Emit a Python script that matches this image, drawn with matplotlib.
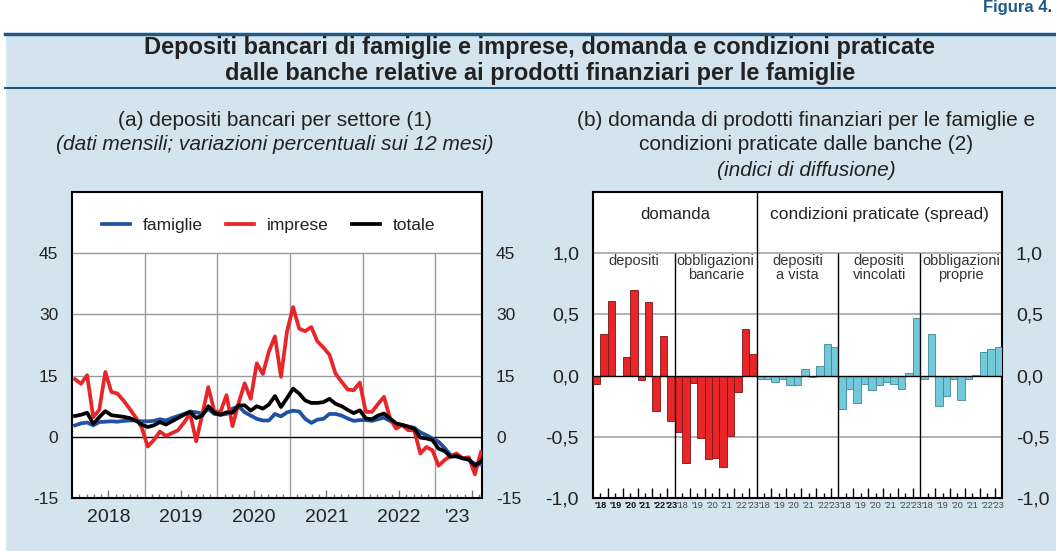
import numpy as np
import matplotlib
matplotlib.use('Agg')
import matplotlib.pyplot as plt
from matplotlib import rcParams
from matplotlib.patches import Rectangle
from matplotlib.lines import Line2D

rcParams['font.family'] = 'sans-serif'
rcParams['font.sans-serif'] = ['Liberation Sans', 'DejaVu Sans']

# (a) depositi bancari per settore, variazioni % sui 12 mesi, gen 2018 - ago 2023
famiglie = [2.8, 3.3, 3.5, 2.8, 3.6, 3.7, 3.8, 3.7, 3.9, 4.0, 4.0, 3.8,
            3.8, 3.9, 4.3, 4.0, 4.6, 5.1, 5.6, 6.2, 6.0, 5.7, 6.8, 5.6,
            5.4, 5.6, 6.9, 7.5, 6.0, 5.2, 4.4, 4.0, 4.0, 5.6, 5.0, 6.0,
            6.4, 6.2, 4.4, 3.4, 4.2, 4.4, 5.6, 5.6, 5.2, 4.5, 3.9, 4.1,
            4.1, 3.9, 4.3, 4.7, 3.9, 3.0, 2.9, 2.5, 2.2, 1.1, 0.4, -0.4,
            -1.2, -2.7, -4.5, -4.9, -5.2, -5.7, -6.6, -6.8]
imprese = [14.1, 13.0, 15.1, 4.8, 6.6, 15.9, 11.0, 10.6, 8.9, 6.9, 4.8, 2.3,
           -2.4, -0.8, 1.3, 0.2, 0.9, 1.6, 3.5, 5.7, -1.1, 5.5, 12.2, 6.2,
           6.1, 10.2, 2.6, 8.3, 13.1, 9.3, 18.0, 15.4, 20.9, 24.6, 14.7, 25.9,
           31.8, 26.5, 25.9, 26.9, 23.4, 21.9, 20.1, 15.5, 13.5, 11.6, 11.4, 13.3,
           6.1, 6.1, 8.0, 9.8, 4.5, 2.0, 2.9, 1.6, 1.6, -4.1, -2.5, -3.3,
           -7.1, -5.7, -4.7, -4.1, -5.3, -5.0, -9.2, -3.8]
totale = [5.1, 5.4, 5.9, 3.2, 4.8, 6.3, 5.3, 5.1, 4.9, 4.6, 4.0, 3.0,
          2.4, 2.8, 3.6, 3.0, 3.8, 4.6, 5.4, 6.1, 4.6, 5.2, 7.5, 5.9,
          5.4, 6.0, 5.9, 7.7, 7.7, 6.4, 7.5, 6.9, 7.9, 10.0, 7.3, 9.5,
          11.8, 10.6, 8.9, 8.3, 8.3, 8.5, 9.3, 8.1, 7.5, 6.6, 5.8, 6.5,
          4.5, 4.3, 5.2, 5.7, 4.5, 3.3, 2.9, 2.5, 2.0, -0.2, -0.4, -0.8,
          -2.9, -3.5, -4.9, -4.7, -5.3, -5.5, -7.1, -6.0]
year_labels_a = ['2018', '2019', '2020', '2021', '2022', "'23"]

# (b) indici di diffusione, dati semestrali 2018 H1 - 2023 H1
dom_depositi = [-0.07, 0.34, 0.61, 0.0, 0.15, 0.70, -0.04, 0.60, -0.29, 0.32, -0.37]
dom_obbligazioni = [-0.46, -0.71, -0.06, -0.51, -0.68, -0.67, -0.75, -0.49, -0.13, 0.38, 0.18]
cond_vista = [-0.03, -0.03, -0.05, -0.03, -0.08, -0.08, 0.05, -0.01, 0.08, 0.26, 0.23]
cond_vincolati = [-0.27, -0.11, -0.22, -0.07, -0.12, -0.08, -0.05, -0.07, -0.11, 0.02, 0.47]
cond_obbl_proprie = [-0.03, 0.34, -0.25, -0.17, -0.03, -0.20, -0.03, 0.005, 0.19, 0.22, 0.23]
group_names = ['depositi', 'obbligazioni\nbancarie', 'depositi\na vista',
               'depositi\nvincolati', 'obbligazioni\nproprie']
year_labels_b = ["'18", "'19", "'20", "'21", "'22", "'23"]

W, H = 1056, 551
BG = '#d3e4ee'
DARKBLUE = '#1d5a88'
RED = '#e8262a'
BLUE = '#1f52a3'
CYAN = '#72c9d9'
TXT = '#222222'

fig = plt.figure(figsize=(W/100, H/100), dpi=100)
fig.patch.set_facecolor(BG)

# header band
fig.patches.append(Rectangle((0, 1-32/H), 1, 32/H, transform=fig.transFigure, color='white', zorder=0))
fig.patches.append(Rectangle((0, 0), 5/W, 1, transform=fig.transFigure, color='white', zorder=0))
fig.lines.append(Line2D([5/W, 1], [1-33.5/H, 1-33.5/H], transform=fig.transFigure, color=DARKBLUE, lw=2.5))
fig.lines.append(Line2D([5/W, 1], [1-88/H, 1-88/H], transform=fig.transFigure, color=DARKBLUE, lw=1.5))
fig.text(1052/W, 1-12/H, 'Figura 4.', ha='right', va='baseline', fontsize=12, fontweight='bold', color=DARKBLUE)

fig.text(540/W, 1-54/H, 'Depositi bancari di famiglie e imprese, domanda e condizioni praticate',
         ha='center', va='baseline', fontsize=17, fontweight='bold', color=TXT)
fig.text(540/W, 1-80/H, 'dalle banche relative ai prodotti finanziari per le famiglie',
         ha='center', va='baseline', fontsize=17, fontweight='bold', color=TXT)

fig.text(275/W, 1-120/H, '(a) depositi bancari per settore (1)', ha='center', va='center', fontsize=15, color=TXT)
fig.text(275/W, 1-145/H, '(dati mensili; variazioni percentuali sui 12 mesi)', ha='center', va='center',
         fontsize=15, style='italic', color=TXT)
fig.text(806/W, 1-120/H, '(b) domanda di prodotti finanziari per le famiglie e', ha='center', va='center',
         fontsize=15, color=TXT)
fig.text(806/W, 1-145/H, 'condizioni praticate dalle banche (2)', ha='center', va='center', fontsize=15, color=TXT)
fig.text(806/W, 1-171/H, '(indici di diffusione)', ha='center', va='center', fontsize=15, style='italic', color=TXT)

# ---------- panel (a)
ax1 = fig.add_axes([72/W, 1-498/H, 410/W, 306/H])
t = 2018 + (np.arange(len(totale)) + 0.5) / 12
ax1.plot(t, famiglie, color=BLUE, lw=2.7, label='famiglie', zorder=3)
ax1.plot(t, imprese, color=RED, lw=2.7, label='imprese', zorder=4)
ax1.plot(t, totale, color='black', lw=2.7, label='totale', zorder=5)
ax1.set_xlim(2018.0, 2023.64)
ax1.set_ylim(-15, 60)
for y in [15, 30, 45]:
    ax1.axhline(y, color='#9a9a9a', lw=1, zorder=1)
ax1.axhline(0, color='black', lw=1, zorder=2)
ax1.vlines([2019, 2020, 2021, 2022, 2023], -15, 45, color='#9a9a9a', lw=1, zorder=1)
ax1.set_yticks([-15, 0, 15, 30, 45], ['-15', '0', '15', '30', '45'])
ax1.tick_params(axis='y', length=0, labelsize=12.5, labelright=True, pad=10, labelcolor=TXT)
ax1.set_xticks(np.arange(2018.5, 2024, 1), [])
ax1.set_xticks([y + k/10 for y in range(2018, 2024) for k in range(1, 10) if k != 5 and y + k/10 < 2023.64], minor=True)
ax1.tick_params(axis='x', which='major', direction='in', length=6, width=1, color='#777777')
ax1.tick_params(axis='x', which='minor', direction='in', length=3, width=1, color='#777777')
sec1 = ax1.secondary_xaxis('bottom')
sec1.set_xticks([2018.5, 2019.5, 2020.5, 2021.5, 2022.5, 2023.3], year_labels_a)
sec1.tick_params(length=0, labelsize=14, pad=8, labelcolor=TXT)
sec1.spines['bottom'].set_visible(False)
for s in ax1.spines.values():
    s.set_linewidth(1.5)
ax1.legend(loc='upper center', bbox_to_anchor=(0.48, 0.965), ncol=3, frameon=False, fontsize=12.5,
           handlelength=1.6, columnspacing=1.35, handletextpad=0.75, labelcolor=TXT)

# ---------- panel (b)
ax2 = fig.add_axes([593/W, 1-498/H, 409/W, 306/H])
series = [dom_depositi, dom_obbligazioni, cond_vista, cond_vincolati, cond_obbl_proprie]
n = len(dom_depositi)
for g, vals in enumerate(series):
    x = g * n + np.arange(n) + 0.5
    if g < 2:
        ax2.bar(x, vals, width=1, color=RED, edgecolor='#7a1515', lw=0.6, zorder=3)
    else:
        ax2.bar(x, vals, width=1, color=CYAN, edgecolor='#3d8796', lw=0.6, zorder=3)
ax2.set_xlim(0, 5 * n)
ax2.set_ylim(-1.0, 1.5)
for y in [-0.5, 0.5, 1.0]:
    ax2.axhline(y, color='#a6a6a6', lw=1.2, zorder=1)
ax2.axhline(0, color='black', lw=1, zorder=4)
ax2.vlines([n, 3 * n, 4 * n], -1.0, 1.0, color='black', lw=1, zorder=5)
ax2.vlines([2 * n], -1.0, 1.5, color='black', lw=1, zorder=5)
ax2.set_yticks([-1.0, -0.5, 0.0, 0.5, 1.0], ['-1,0', '-0,5', '0,0', '0,5', '1,0'])
ax2.tick_params(axis='y', length=0, labelsize=14, labelright=True, pad=10, labelcolor=TXT)
ax2.set_xticks([g * n + k for g in range(5) for k in (2, 4, 6, 8, 10)], [])
ax2.set_xticks([g * n + k for g in range(5) for k in (1, 3, 5, 7, 9)], minor=True)
ax2.tick_params(axis='x', which='major', direction='in', length=7, width=1, color='black')
ax2.tick_params(axis='x', which='minor', direction='in', length=3.5, width=1, color='black')
sec2 = ax2.secondary_xaxis('bottom')
sec2.set_xticks([g * n + k for g in range(5) for k in (1, 3, 5, 7, 9, 10.5)], year_labels_b * 5)
sec2.tick_params(length=0, labelsize=6.5, pad=2, labelcolor='#444444')
sec2.spines['bottom'].set_visible(False)
for lbl in sec2.get_xticklabels()[:6]:
    lbl.set_fontweight('bold')
    lbl.set_color('#111111')
for s in ax2.spines.values():
    s.set_linewidth(1.5)
ax2.text(n, 1.32, 'domanda', ha='center', va='center', fontsize=12, color=TXT)
ax2.text(3.5 * n, 1.32, 'condizioni praticate (spread)', ha='center', va='center', fontsize=12.5, color=TXT)
for g, name in enumerate(group_names):
    ax2.text(g * n + n / 2, 0.995, name, ha='center', va='top', fontsize=10.5, linespacing=1.0, color='#333333')

fig.savefig('out.png', dpi=100, facecolor=fig.get_facecolor())
